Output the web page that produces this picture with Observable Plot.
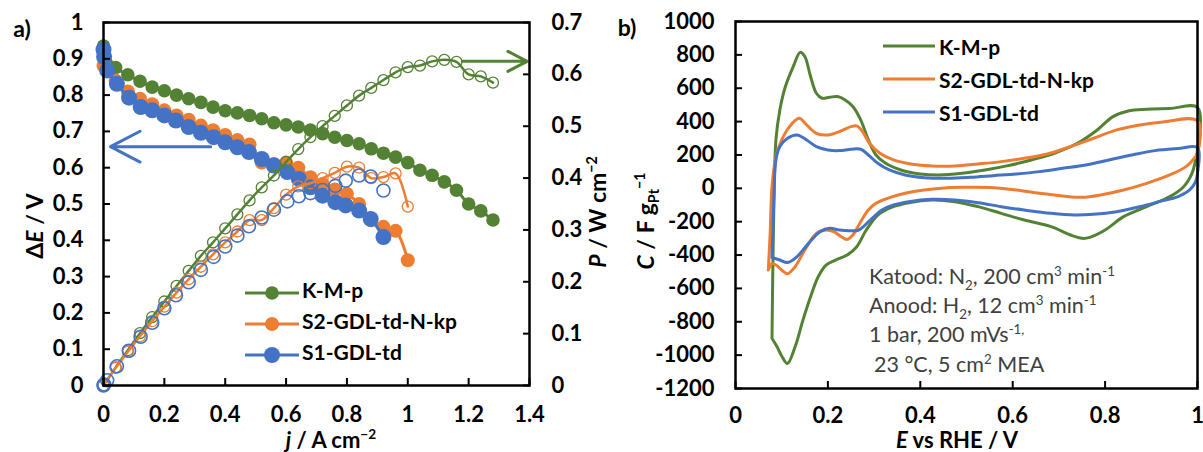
<!DOCTYPE html>
<html><head><meta charset="utf-8">
<script src="https://cdn.jsdelivr.net/npm/d3@7"></script>
<script src="https://cdn.jsdelivr.net/npm/@observablehq/plot@0.6"></script>
<style>
body{margin:0;background:#fff;}
#wrap{position:relative;width:1203px;height:452px;overflow:hidden;font-family:Lato,sans-serif;color:#000;}
#wrap svg.plot{position:absolute;top:0;}
.abs{position:absolute;white-space:nowrap;line-height:1;}
.c{transform:translate(-50%,-50%);}
.rot{transform:translate(-50%,-50%) rotate(-90deg);}
.b{font-weight:bold;}
sup,sub{font-size:0.62em;line-height:0;}
.leg{position:absolute;white-space:nowrap;line-height:1;font-weight:bold;font-size:21px;transform:translateY(-50%);}
.note{position:absolute;white-space:nowrap;line-height:1;font-size:21.5px;color:#404040;transform:translateY(-50%);}
</style></head><body><div id="wrap"></div>
<script>
const GREEN = "#548235", ORANGE = "#ED7D31", BLUE = "#4472C4";
const PMAX = 0.7;

// ---------- panel a) : polarization (ΔE) and power density (P) ----------
const jKMP = [0,0.04,0.08,0.12,0.16,0.20,0.24,0.28,0.32,0.36,0.40,0.44,0.48,0.52,0.56,0.60,0.64,0.68,0.72,0.76,0.80,0.84,0.88,0.92,0.96,1.00,1.04,1.08,1.12,1.16,1.20,1.24,1.28];
const eKMP = [0.935,0.876,0.856,0.838,0.822,0.812,0.800,0.790,0.780,0.767,0.757,0.751,0.744,0.735,0.724,0.718,0.712,0.704,0.694,0.684,0.675,0.666,0.652,0.640,0.629,0.614,0.593,0.579,0.561,0.538,0.500,0.481,0.456];
const pKMP = [0,0.035,0.068,0.101,0.132,0.162,0.192,0.221,0.250,0.276,0.303,0.330,0.357,0.382,0.405,0.431,0.456,0.479,0.500,0.520,0.540,0.559,0.574,0.589,0.604,0.614,0.617,0.625,0.628,0.624,0.600,0.596,0.584];

const jS2 = [0,0.04,0.08,0.12,0.16,0.20,0.24,0.28,0.32,0.36,0.40,0.44,0.48,0.52,0.56,0.60,0.64,0.68,0.72,0.76,0.80,0.84,0.88,0.92,0.96,1.00];
const eS2 = [0.881,0.840,0.810,0.790,0.775,0.758,0.744,0.732,0.716,0.703,0.690,0.676,0.664,0.614,0.610,0.614,0.600,0.574,0.555,0.540,0.528,0.500,0.455,0.437,0.426,0.345];
const pS2 = [0,0.034,0.065,0.095,0.124,0.152,0.179,0.205,0.229,0.253,0.276,0.297,0.319,0.319,0.342,0.368,0.384,0.390,0.400,0.410,0.422,0.420,0.400,0.402,0.409,0.345];

const jS1 = [0,0.002,0.012,0.044,0.084,0.122,0.16,0.20,0.238,0.28,0.32,0.362,0.40,0.44,0.478,0.52,0.56,0.604,0.642,0.68,0.72,0.762,0.796,0.84,0.878,0.92];
const eS1 = [0.925,0.905,0.868,0.831,0.793,0.767,0.758,0.744,0.730,0.712,0.696,0.684,0.670,0.656,0.643,0.624,0.606,0.588,0.569,0.546,0.523,0.505,0.496,0.482,0.459,0.409];
const pS1 = [0,0.002,0.010,0.037,0.067,0.094,0.121,0.149,0.174,0.199,0.223,0.248,0.268,0.289,0.307,0.324,0.339,0.355,0.365,0.371,0.377,0.385,0.395,0.405,0.403,0.376];

const xTicksA = [0,0.2,0.4,0.6,0.8,1,1.2,1.4];
const eTicks = [0,0.1,0.2,0.3,0.4,0.5,0.6,0.7,0.8,0.9,1];
const pTicks = [0,0.1,0.2,0.3,0.4,0.5,0.6,0.7];

// arrows (data units: j, ΔE-axis fraction)
const arrowLeft = [{x1:0.352, x2:0.023, y:0.658}];
const arrowRight = [{x1:1.179, x2:1.392, y:0.893}];

// ---------- panel b) : cyclic voltammograms ----------
const eCV_KMP = [0.079,0.082,0.0875,0.096,0.108,0.125,0.14,0.15,0.1625,0.175,0.1875,0.204,0.221,0.2375,0.254,0.271,0.2875,0.304,0.325,0.358,0.40,0.44,0.49,0.54,0.59,0.64,0.69,0.74,0.783,0.817,0.85,0.89,0.94,1.0,
                 1.0,0.996,0.988,0.97,0.94,0.89,0.84,0.80,0.767,0.75,0.725,0.683,0.625,0.575,0.525,0.475,0.425,0.375,0.3375,0.308,0.283,0.2625,0.2417,0.2167,0.196,0.179,0.1625,0.146,0.129,0.1125,0.10,0.09,0.079];
const cCV_KMP = [-900,-270,290,470,610,730,815,790,670,570,540,546,550,530,490,410,290,200,150,110,86,80,90,110,136,170,210,270,350,430,464,474,478,484,
                 230,170,90,10,-50,-110,-170,-250,-294,-300,-280,-230,-190,-150,-110,-80,-70,-86,-114,-160,-250,-350,-400,-430,-460,-530,-650,-790,-950,-1050,-1005,-950,-900];

const eCV_S2 = [0.071,0.075,0.079,0.0875,0.10,0.117,0.1375,0.154,0.175,0.20,0.225,0.25,0.2625,0.275,0.29,0.3125,0.342,0.383,0.425,0.475,0.525,0.575,0.625,0.675,0.725,0.775,0.825,0.875,0.925,1.0,
                1.0,0.99,0.975,0.94,0.89,0.84,0.79,0.75,0.708,0.658,0.608,0.558,0.508,0.458,0.408,0.367,0.329,0.304,0.2875,0.271,0.254,0.2417,0.229,0.2125,0.196,0.175,0.15,0.129,0.1125,0.10,0.0875,0.079,0.071];
const cCV_S2 = [-490,-270,10,190,290,370,420,380,330,320,340,370,374,340,270,210,170,144,134,134,146,160,180,206,250,300,350,380,398,404,
                210,170,130,80,30,-10,-40,-54,-46,-30,-10,4,6,4,-10,-30,-60,-90,-130,-200,-280,-306,-290,-260,-250,-270,-370,-470,-512,-490,-460,-452,-490];

const eCV_S1 = [0.079,0.083,0.0875,0.096,0.1125,0.133,0.154,0.175,0.20,0.225,0.25,0.271,0.2917,0.308,0.333,0.367,0.408,0.458,0.508,0.558,0.608,0.658,0.708,0.758,0.808,0.858,0.908,0.958,1.0,
                1.0,0.996,0.983,0.958,0.917,0.875,0.825,0.775,0.733,0.683,0.625,0.575,0.525,0.475,0.425,0.375,0.342,0.317,0.2917,0.2667,0.246,0.225,0.204,0.183,0.158,0.133,0.1125,0.096,0.079];
const cCV_S1 = [-415,-70,170,250,300,320,290,250,230,226,234,234,190,150,110,80,64,60,66,76,86,100,120,140,170,200,226,238,244,
                90,40,-10,-50,-80,-110,-140,-156,-160,-150,-130,-110,-86,-70,-66,-80,-100,-130,-190,-250,-254,-250,-240,-260,-330,-410,-445,-430,-415];

const xTicksB = [0,0.2,0.4,0.6,0.8,1];
const cTicks = [-1200,-1000,-800,-600,-400,-200,0,200,400,600,800,1000];

// ---------- helpers ----------
const rows = (xs, ys) => xs.map((x, i) => ({x, y: ys[i]}));
const prow = (xs, ps) => xs.map((x, i) => ({x, y: ps[i] / PMAX}));
const fmt = d => String(+d.toFixed(2));
const baseStyle = {fontFamily: "Lato, sans-serif", fontSize: "22px", fontWeight: "bold", color: "black", background: "transparent", overflow: "visible"};

const kE = rows(jKMP, eKMP), oE = rows(jS2, eS2), bE = rows(jS1, eS1);
const kP = prow(jKMP, pKMP), oP = prow(jS2, pS2), bP = prow(jS1, pS1);

const left = Plot.plot({
  width: 600, height: 452,
  marginLeft: 103, marginRight: 71, marginTop: 22, marginBottom: 67,
  x: {domain: [0, 1.4], label: null},
  y: {domain: [0, 1], label: null},
  style: baseStyle,
  marks: [
    Plot.line(kE, {x: "x", y: "y", stroke: GREEN, strokeWidth: 3, curve: "catmull-rom"}),
    Plot.dot(kE, {x: "x", y: "y", fill: GREEN, r: 6.8}),
    Plot.line(oE, {x: "x", y: "y", stroke: ORANGE, strokeWidth: 3, curve: "catmull-rom"}),
    Plot.dot(oE, {x: "x", y: "y", fill: ORANGE, r: 7}),
    Plot.line(bE, {x: "x", y: "y", stroke: BLUE, strokeWidth: 3, curve: "catmull-rom"}),
    Plot.dot(bE, {x: "x", y: "y", fill: BLUE, r: 8}),
    Plot.line(kP, {x: "x", y: "y", stroke: GREEN, strokeWidth: 2.5, curve: "catmull-rom"}),
    Plot.dot(kP, {x: "x", y: "y", stroke: GREEN, strokeWidth: 1.3, r: 5.5, fill: "none"}),
    Plot.line(oP, {x: "x", y: "y", stroke: ORANGE, strokeWidth: 2.5, curve: "catmull-rom"}),
    Plot.dot(oP, {x: "x", y: "y", stroke: ORANGE, strokeWidth: 1.3, r: 5.5, fill: "none"}),
    Plot.dot(bP, {x: "x", y: "y", stroke: BLUE, strokeWidth: 1.6, r: 6.5, fill: "none"}),
    Plot.arrow(arrowLeft, {x1: "x1", x2: "x2", y1: "y", y2: "y", stroke: BLUE, strokeWidth: 3, headLength: 22, headAngle: 55}),
    Plot.arrow(arrowRight, {x1: "x1", x2: "x2", y1: "y", y2: "y", stroke: GREEN, strokeWidth: 3, headLength: 22, headAngle: 55}),
    Plot.axisX(xTicksA, {anchor: "bottom", tickSize: -7, tickPadding: 28, strokeWidth: 2, tickFormat: fmt, label: null}),
    Plot.axisY(eTicks, {anchor: "left", tickSize: -7, tickPadding: 27, strokeWidth: 2, tickFormat: fmt, label: null}),
    Plot.axisY(pTicks.map(p => p / PMAX), {anchor: "right", tickSize: -7, tickPadding: 29, strokeWidth: 2, tickFormat: v => fmt(v * PMAX), label: null}),
    Plot.frame({stroke: "black", strokeWidth: 2.5})
  ]
});
left.classList.add("plot");
left.style.left = "0px";

const right = Plot.plot({
  width: 603, height: 452,
  marginLeft: 135, marginRight: 6, marginTop: 21, marginBottom: 64,
  x: {domain: [0, 1], label: null},
  y: {domain: [-1200, 1000], label: null},
  style: baseStyle,
  marks: [
    Plot.line(rows(eCV_KMP, cCV_KMP), {x: "x", y: "y", stroke: GREEN, strokeWidth: 3, curve: "catmull-rom"}),
    Plot.line(rows(eCV_S2, cCV_S2), {x: "x", y: "y", stroke: ORANGE, strokeWidth: 3, curve: "catmull-rom"}),
    Plot.line(rows(eCV_S1, cCV_S1), {x: "x", y: "y", stroke: BLUE, strokeWidth: 3, curve: "catmull-rom"}),
    Plot.axisX(xTicksB, {anchor: "bottom", tickSize: -7, tickPadding: 26, strokeWidth: 2, tickFormat: fmt, label: null}),
    Plot.axisY(cTicks, {anchor: "left", tickSize: -7, tickPadding: 28, strokeWidth: 2, tickFormat: d => String(d), label: null}),
    Plot.frame({stroke: "black", strokeWidth: 2.5})
  ]
});
right.classList.add("plot");
right.style.left = "600px";

const wrap = document.getElementById("wrap");
wrap.appendChild(left);
wrap.appendChild(right);

function add(html, cls, x, y, extra) {
  const d = document.createElement("div");
  d.className = cls;
  d.style.left = x + "px";
  d.style.top = y + "px";
  if (extra) Object.assign(d.style, extra);
  d.innerHTML = html;
  wrap.appendChild(d);
  return d;
}
// panel letters
add("a)", "abs c b", 22, 28, {fontSize: "23px"});
add("b)", "abs c b", 627, 27, {fontSize: "23px"});
// axis titles
add("Δ<i>E</i> / V", "abs rot b", 34, 226, {fontSize: "23px"});
add("<i>P</i> / W cm<sup>−2</sup>", "abs rot b", 597, 212, {fontSize: "23px"});
add("<i>j</i> / A cm<sup>−2</sup>", "abs c b", 331, 440, {fontSize: "22px", lineHeight: "0.95"});
add("<i>C</i> / F g<sub>Pt</sub><sup>−1</sup>", "abs rot b", 645, 221, {fontSize: "23px"});
add("<i>E</i> vs RHE / V", "abs c b", 957, 440, {fontSize: "22px", lineHeight: "0.95"});

// legends
const legA = [["K-M-p", GREEN, 6.8, 289], ["S2-GDL-td-N-kp", ORANGE, 7, 320], ["S1-GDL-td", BLUE, 8, 351]];
legA.forEach(([name, col, r, y]) => {
  add(`<svg width="60" height="20" style="vertical-align:middle;overflow:visible"><line x1="0" x2="54" y1="10" y2="10" stroke="${col}" stroke-width="3"/><circle cx="27" cy="10" r="${r}" fill="${col}"/></svg>`, "leg", 245, y, {height: "20px"});
  add(name, "leg", 302, y);
});
const legB = [["K-M-p", GREEN, 46], ["S2-GDL-td-N-kp", ORANGE, 79], ["S1-GDL-td", BLUE, 112]];
legB.forEach(([name, col, y]) => {
  add(`<svg width="54" height="20" style="overflow:visible"><line x1="0" x2="52" y1="10" y2="10" stroke="${col}" stroke-width="3"/></svg>`, "leg", 883, y, {height: "20px"});
  add(name, "leg", 939, y);
});
// conditions note
const notes = [
  ["Katood: N<sub>2</sub>, 200 cm<sup>3</sup> min<sup>-1</sup>", 869, 277],
  ["Anood: H<sub>2</sub>, 12 cm<sup>3</sup> min<sup>-1</sup>", 869, 306],
  ["1 bar, 200 mVs<sup>-1,</sup>", 869, 335],
  ["23 °C, 5 cm<sup>2</sup> MEA", 874, 365]
];
notes.forEach(([h, x, y]) => add(h, "note", x, y));
</script>
</body></html>
